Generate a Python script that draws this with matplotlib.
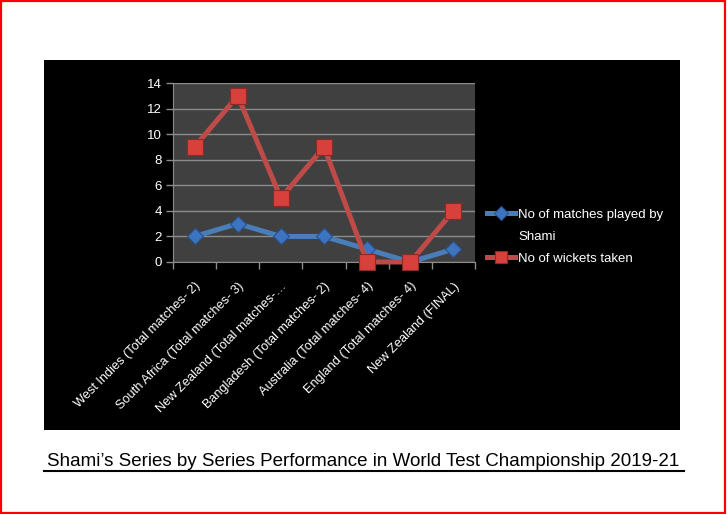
import numpy as np
import matplotlib.pyplot as plt
from matplotlib.patches import Rectangle
from matplotlib.lines import Line2D

plt.rcParams['font.family'] = ['Liberation Sans', 'DejaVu Sans']

# series data
series_labels = ['West Indies (Total matches- 2)',
                 'South Africa (Total matches- 3)',
                 'New Zealand (Total matches-\u2026',
                 'Bangladesh (Total matches- 2)',
                 'Australia (Total matches- 4)',
                 'England (Total matches- 4)',
                 'New Zealand (FINAL)']
matches_played = [2, 3, 2, 2, 1, 0, 1]
wickets_taken = [9, 13, 5, 9, 0, 0, 4]
yticks = [0, 2, 4, 6, 8, 10, 12, 14]

W, H = 727, 514
fig = plt.figure(figsize=(W / 100, H / 100), dpi=100)
fig.patch.set_facecolor('white')

# red outer border
fig.patches.append(Rectangle((0.001, 0.002), 0.996, 0.996, transform=fig.transFigure,
                             fill=False, edgecolor='red', linewidth=1.6))
# black chart area as a background axes
bg = fig.add_axes([44 / W, 1 - 430 / H, 636 / W, 370 / H], zorder=-1)
bg.set_facecolor('black')
bg.set_xticks([])
bg.set_yticks([])
for s in bg.spines.values():
    s.set_visible(False)

ax = fig.add_axes([173 / W, 1 - 262 / H, 302 / W, 179 / H], zorder=1)
ax.set_facecolor('#404040')
x = np.arange(len(series_labels))

l1, = ax.plot(x, matches_played, color='#4a7ebb', linewidth=3.6, marker='D',
              markersize=8, markerfacecolor='#3d74c0', markeredgecolor='#2a5290',
              markeredgewidth=0.8, zorder=3)
l2, = ax.plot(x, wickets_taken, color='#be4b48', linewidth=3.6, marker='s',
              markersize=11, markerfacecolor='#d8403c', markeredgecolor='#8c2a28',
              markeredgewidth=0.8, zorder=4, clip_on=False)

ax.set_xlim(-0.5, len(series_labels) - 0.5)
ax.set_ylim(0, 14)
ax.set_yticks(yticks)
ax.yaxis.grid(True, color='#8c8c8c', linewidth=1)
ax.set_axisbelow(True)

ax.set_xticks(x)
ax.set_xticks(np.arange(-0.5, len(series_labels)), minor=True)
ax.tick_params(axis='x', which='major', length=0, pad=13)
ax.tick_params(axis='x', which='minor', length=5, color='#8c8c8c', width=1)
ax.tick_params(axis='y', length=5, color='#8c8c8c', width=1, labelcolor='white',
               labelsize=9.5, pad=3)
ax.set_xticklabels(series_labels, rotation=45, ha='right', va='top',
                   rotation_mode='anchor', color='white', fontsize=9.2)

for side in ['top', 'right']:
    ax.spines[side].set_visible(False)
ax.spines['left'].set_color('#8c8c8c')
ax.spines['bottom'].set_color('#8c8c8c')

# legend: second line of the first entry gets a blank handle
blank = Line2D([], [], color='none')
leg = ax.legend([l1, blank, l2],
                ['No of matches played by', 'Shami', 'No of wickets taken'],
                loc='upper left', bbox_to_anchor=(482 / W, 1 - 203 / H),
                bbox_transform=fig.transFigure, frameon=False, fontsize=9.5,
                labelcolor='white', handlelength=2.1, handletextpad=0.25,
                labelspacing=0.75, borderaxespad=0, markerscale=0.85)

fig.text(0.5, 1 - 461 / H,
         'Shami\u2019s Series by Series Performance in World Test Championship 2019-21',
         ha='center', va='center', fontsize=13.5, color='black')
fig.add_artist(Line2D([44 / W, 684 / W], [1 - 471 / H, 1 - 471 / H],
                      color='black', linewidth=1.5, transform=fig.transFigure))

plt.savefig('out.png', dpi=100, facecolor='white')
plt.close()
